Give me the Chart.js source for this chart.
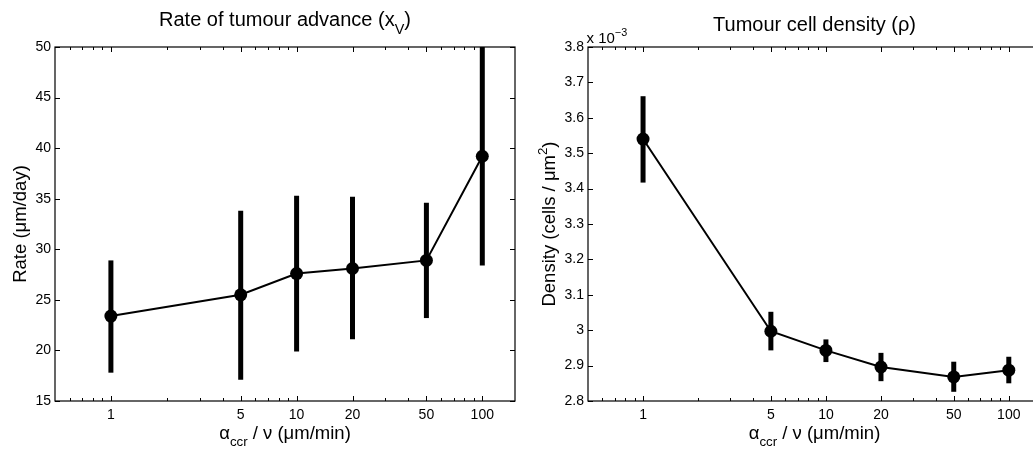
<!DOCTYPE html>
<html>
<head>
<meta charset="utf-8">
<script src="https://cdn.jsdelivr.net/npm/chart.js@4"></script>
<style>
  html, body { margin:0; padding:0; background:#fff; overflow:hidden; width:1033px; height:449px; }
  .box { position:absolute; top:0; height:449px; }
  #leftBox { left:0; width:530px; }
  #rightBox { left:530px; width:530px; }
</style>
</head>
<body>
<div class="box" id="leftBox"><canvas id="c1"></canvas></div>
<div class="box" id="rightBox"><canvas id="c2"></canvas></div>
<script>
// ---- data ----
const xValues   = [1, 5, 10, 20, 50, 100];          // alpha_ccr / nu (um/min)
const xTicks    = [1, 5, 10, 20, 50, 100];
const rateMean  = [23.4, 25.5, 27.6, 28.1, 28.9, 39.2];   // um/day
const rateLow   = [17.8, 17.1, 19.9, 21.1, 23.2, 28.4];
const rateHigh  = [28.9, 33.8, 35.3, 35.2, 34.6, 50.0];
const rateTicks = [15, 20, 25, 30, 35, 40, 45, 50];
const densMean  = [3.540, 2.997, 2.943, 2.896, 2.868, 2.887]; // x 10^-3 cells/um^2
const densLow   = [3.417, 2.943, 2.910, 2.856, 2.826, 2.850];
const densHigh  = [3.661, 3.052, 2.974, 2.936, 2.911, 2.925];
const densTicks = [2.8, 2.9, 3.0, 3.1, 3.2, 3.3, 3.4, 3.5, 3.6, 3.7, 3.8];

const FONT = '"Liberation Sans", Arial, Helvetica, sans-serif';

function drawRich(ctx, parts, x, y, size, align, rotate) {
  const widths = parts.map(p => {
    ctx.font = (p[1] ? size * 0.72 : size) + 'px ' + FONT;
    return ctx.measureText(p[0]).width;
  });
  const total = widths.reduce((a, b) => a + b, 0);
  ctx.save();
  ctx.translate(x, y);
  if (rotate) ctx.rotate(-Math.PI / 2);
  let cx = align === 'left' ? 0 : -total / 2;
  ctx.fillStyle = '#000';
  ctx.textAlign = 'left';
  ctx.textBaseline = 'alphabetic';
  parts.forEach((p, i) => {
    ctx.font = (p[1] ? size * 0.72 : size) + 'px ' + FONT;
    const dy = p[1] === 'sub' ? size * 0.38 : p[1] === 'sup' ? -size * 0.45 : 0;
    ctx.fillText(p[0], cx, dy);
    cx += widths[i];
  });
  ctx.restore();
}

function minorValues(min, max, skip) {
  const out = [];
  for (let d = Math.floor(Math.log10(min)); d <= Math.ceil(Math.log10(max)); d++) {
    for (let m = 1; m <= 9; m++) {
      const v = m * Math.pow(10, d);
      if (v > min && v < max && !skip.some(s => Math.abs(s - v) < 1e-9)) out.push(v);
    }
  }
  return out;
}

const matlabPlugin = {
  id: 'matlab',
  beforeDatasetsDraw(chart, args, opts) {
    const ctx = chart.ctx, a = chart.chartArea;
    const xs = chart.scales.x, ys = chart.scales.y;
    ctx.save();
    ctx.beginPath();
    ctx.rect(a.left, a.top, a.right - a.left, a.bottom - a.top);
    ctx.clip();
    ctx.strokeStyle = '#000';
    ctx.lineWidth = 5;
    ctx.lineCap = 'butt';
    opts.xv.forEach((v, i) => {
      const px = xs.getPixelForValue(v);
      ctx.beginPath();
      ctx.moveTo(px, ys.getPixelForValue(opts.low[i]));
      ctx.lineTo(px, ys.getPixelForValue(opts.high[i]));
      ctx.stroke();
    });
    ctx.restore();
  },
  afterDraw(chart, args, opts) {
    const ctx = chart.ctx, a = chart.chartArea;
    const xs = chart.scales.x, ys = chart.scales.y;
    ctx.save();
    ctx.strokeStyle = '#000';
    ctx.lineWidth = 1.2;
    ctx.strokeRect(a.left, a.top, a.right - a.left, a.bottom - a.top);
    ctx.lineWidth = 1;
    ctx.beginPath();
    const major = 5, minor = 3;
    xs.ticks.forEach(t => {
      const px = Math.round(xs.getPixelForValue(t.value)) + 0.5;
      ctx.moveTo(px, a.bottom); ctx.lineTo(px, a.bottom - major);
      ctx.moveTo(px, a.top); ctx.lineTo(px, a.top + major);
    });
    minorValues(xs.min, xs.max, xs.ticks.map(t => t.value)).forEach(v => {
      const px = Math.round(xs.getPixelForValue(v)) + 0.5;
      ctx.moveTo(px, a.bottom); ctx.lineTo(px, a.bottom - minor);
      ctx.moveTo(px, a.top); ctx.lineTo(px, a.top + minor);
    });
    ys.ticks.forEach(t => {
      const py = Math.round(ys.getPixelForValue(t.value)) + 0.5;
      ctx.moveTo(a.left, py); ctx.lineTo(a.left + major, py);
      ctx.moveTo(a.right, py); ctx.lineTo(a.right - major, py);
    });
    ctx.stroke();
    ctx.restore();

    const cx = (a.left + a.right) / 2;
    const cy = (a.top + a.bottom) / 2;
    drawRich(ctx, opts.title, cx, opts.titleY, 20, 'center', false);
    drawRich(ctx, [['\u03B1', ''], ['ccr', 'sub'], [' / \u03BD (\u03BCm/min)', '']], cx, 439, 18.5, 'center', false);
    drawRich(ctx, opts.ylabel, opts.ylabelX, cy, 18.5, 'center', true);
    if (opts.exponent) drawRich(ctx, opts.exponent, a.left - 1.5, 42.5, 15, 'left', false);
  }
};

function makeChart(id, mean, low, high, yTicks, yMin, yMax, yWidth, padRight, tickFmt, plug) {
  return new Chart(document.getElementById(id), {
    type: 'line',
    data: {
      datasets: [{
        data: xValues.map((x, i) => ({ x: x, y: mean[i] })),
        borderColor: '#000',
        backgroundColor: '#000',
        borderWidth: 2,
        pointRadius: 6.5,
        pointBackgroundColor: '#000',
        pointBorderColor: '#000',
        pointBorderWidth: 0,
        tension: 0,
        clip: false
      }]
    },
    options: {
      responsive: true,
      maintainAspectRatio: false,
      animation: false,
      events: [],
      layout: { padding: { top: 47, right: padRight, left: 0, bottom: 0 } },
      plugins: { legend: { display: false }, tooltip: { enabled: false }, matlab: plug },
      scales: {
        x: {
          type: 'logarithmic',
          min: 0.5, max: 150,
          afterBuildTicks: s => { s.ticks = xTicks.map(v => ({ value: v })); },
          afterFit: s => { s.height = 48; },
          grid: { display: false, drawTicks: false },
          border: { display: false },
          ticks: {
            autoSkip: false, maxRotation: 0, padding: 6,
            color: '#000', font: { family: FONT, size: 14 },
            callback: v => String(v)
          }
        },
        y: {
          type: 'linear',
          min: yMin, max: yMax,
          afterBuildTicks: s => { s.ticks = yTicks.map(v => ({ value: v })); },
          afterFit: s => { s.width = yWidth; },
          grid: { display: false, drawTicks: false },
          border: { display: false },
          ticks: {
            padding: 4, color: '#000', font: { family: FONT, size: 14 },
            callback: tickFmt
          }
        }
      }
    },
    plugins: [matlabPlugin]
  });
}

makeChart('c1', rateMean, rateLow, rateHigh, rateTicks, 15, 50, 55, 15,
  v => String(v),
  { xv: xValues, low: rateLow, high: rateHigh,
    title: [['Rate of tumour advance (x', ''], ['V', 'sub'], [')', '']], titleY: 26,
    ylabel: [['Rate (\u03BCm/day)', '']], ylabelX: 25.5 });

makeChart('c2', densMean, densLow, densHigh, densTicks, 2.8, 3.8, 58, 19,
  v => String(Math.round(v * 10) / 10),
  { xv: xValues, low: densLow, high: densHigh,
    title: [['Tumour cell density (\u03C1)', '']], titleY: 31,
    ylabel: [['Density (cells / \u03BCm', ''], ['2', 'sup'], [')', '']], ylabelX: 25,
    exponent: [['x 10', ''], ['\u22123', 'sup']] });
</script>
</body>
</html>
